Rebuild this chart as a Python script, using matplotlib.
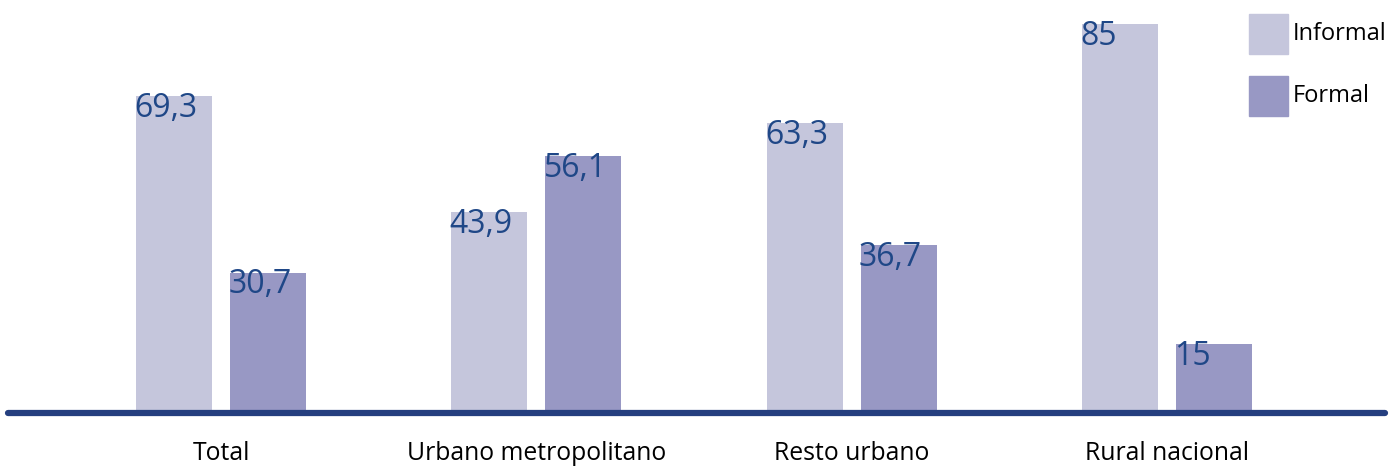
import matplotlib.pyplot as plt
from matplotlib.patches import Rectangle
import numpy as np

# datos
categorias = ["Total", "Urbano metropolitano", "Resto urbano", "Rural nacional"]
informal = [69.3, 43.9, 63.3, 85]
formal = [30.7, 56.1, 36.7, 15]
etiquetas_informal = ["69,3", "43,9", "63,3", "85"]
etiquetas_formal = ["30,7", "56,1", "36,7", "15"]

c_informal = "#c5c6dc"
c_formal = "#9898c4"
c_texto = "#1f4787"
c_linea = "#253f7f"

plt.rcParams['font.family'] = ['Open Sans', 'DejaVu Sans']

fig = plt.figure(figsize=(13.91, 4.68), dpi=100)
ax = fig.add_axes([8 / 1391, 55 / 468, 1377 / 1391, 413 / 468])

x = np.arange(len(categorias))
ancho = 0.241
desp = 0.149

ax.bar(x - desp, informal, ancho, color=c_informal)
ax.bar(x + desp, formal, ancho, color=c_formal)

for i in range(len(categorias)):
    ax.text(x[i] - desp - ancho / 2 - 0.006, informal[i] + 0.9, etiquetas_informal[i],
            ha='left', va='top', fontsize=23, color=c_texto)
    ax.text(x[i] + desp - ancho / 2 - 0.006, formal[i] + 0.9, etiquetas_formal[i],
            ha='left', va='top', fontsize=23, color=c_texto)

ax.set_xlim(-0.6755, 3.691)
ax.set_ylim(0, 90.3)
ax.axhline(0, color=c_linea, linewidth=4.5, solid_capstyle='round', clip_on=False)

for s in ax.spines.values():
    s.set_visible(False)
ax.set_yticks([])
ax.set_xticks(x)
ax.set_xticklabels(categorias, fontsize=17.8)
ax.tick_params(axis='x', length=0, pad=20)

# leyenda manual
fig.patches.append(Rectangle((1249 / 1391, 1 - 54 / 468), 39 / 1391, 40 / 468,
                             transform=fig.transFigure, color=c_informal))
fig.patches.append(Rectangle((1249 / 1391, 1 - 116 / 468), 39 / 1391, 40 / 468,
                             transform=fig.transFigure, color=c_formal))
fig.text(1293 / 1391, 1 - 34 / 468, "Informal", fontsize=17, va='center', ha='left')
fig.text(1293 / 1391, 1 - 96 / 468, "Formal", fontsize=17, va='center', ha='left')

fig.savefig("out.png", dpi=100)
